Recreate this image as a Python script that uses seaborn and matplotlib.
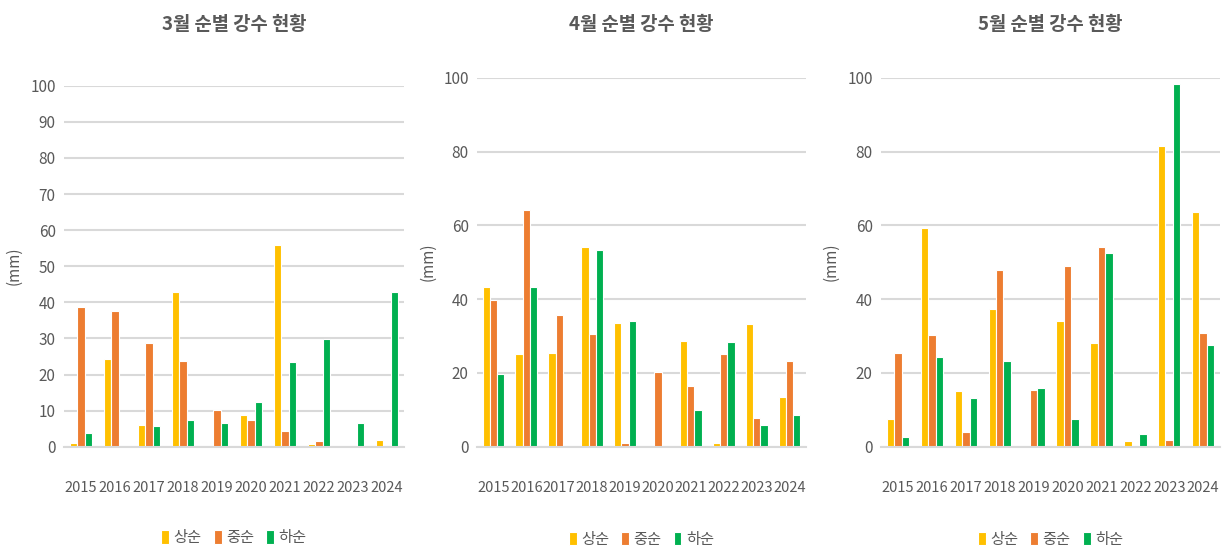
'''
3~5월 순별(상순/중순/하순) 강수 현황 막대그래프
'''

import pandas as pd
import matplotlib
matplotlib.use("Agg")
import matplotlib.pyplot as plt
import seaborn as sns

years = [2015, 2016, 2017, 2018, 2019, 2020, 2021, 2022, 2023, 2024]
periods = ["상순", "중순", "하순"]
colors = ["#FFC000", "#ED7D31", "#00B050"]

# 3월
mar_early = [1.1, 24.2, 6.0, 42.8, 0, 8.8, 56.0, 0.7, 0, 1.9]
mar_mid = [38.8, 37.5, 28.7, 23.8, 10.2, 7.4, 4.3, 1.6, 0, 0]
mar_late = [3.9, 0, 5.7, 7.4, 6.7, 12.3, 23.5, 29.8, 6.7, 42.8]

# 4월
apr_early = [43.4, 25.0, 25.4, 54.0, 33.5, 0, 28.7, 1.1, 33.2, 13.6]
apr_mid = [39.8, 64.2, 35.6, 30.5, 1.1, 20.2, 16.4, 25.0, 7.9, 23.3]
apr_late = [19.7, 43.4, 0, 53.4, 34.2, 0, 10.0, 28.4, 5.9, 8.6]

# 5월
may_early = [7.6, 59.2, 15.1, 37.3, 0, 34.2, 28.1, 1.5, 81.4, 63.6]
may_mid = [25.4, 30.2, 3.9, 47.9, 15.4, 48.9, 54.0, 0, 1.9, 30.8]
may_late = [2.5, 24.3, 13.1, 23.3, 15.8, 7.6, 52.4, 3.5, 98.2, 27.7]

titles = ["3월 순별 강수 현황", "4월 순별 강수 현황", "5월 순별 강수 현황"]
y_ticks = [list(range(0, 101, 10)), list(range(0, 101, 20)), list(range(0, 101, 20))]


#######################################################
### 1. Long table

def build_table(early, mid, late):

    rows = []

    for name, values in zip(periods, [early, mid, late]):

        for year, v in zip(years, values):

            rows.append({"year": str(year), "period": name, "rain": v})

    return pd.DataFrame(rows)


#######################################################
### 2. Plot

sns.set_theme(style="white")
plt.rcParams["font.family"] = ["Noto Sans CJK KR", "DejaVu Sans"]

text_color = "#595959"

fig = plt.figure(figsize=(12.24, 5.49), dpi=100)

# [left, bottom, width, height] of each panel
positions = [
    [0.0523, 0.1863, 0.2778, 0.6576],
    [0.3897, 0.1863, 0.2688, 0.6721],
    [0.7198, 0.1863, 0.2770, 0.6721],
]

tables = [
    build_table(mar_early, mar_mid, mar_late),
    build_table(apr_early, apr_mid, apr_late),
    build_table(may_early, may_mid, may_late),
]

for pos, df, title, ticks in zip(positions, tables, titles, y_ticks):

    ax = fig.add_axes(pos)

    sns.barplot(
        data=df,
        x="year",
        y="rain",
        hue="period",
        palette=colors,
        saturation=1,
        width=0.66,
        edgecolor="white",
        linewidth=0.8,
        ax=ax
    )

    ax.set_ylim(0, 100)
    ax.set_yticks(ticks)
    ax.yaxis.grid(True, color="#d9d9d9", linewidth=1.5)
    ax.set_axisbelow(True)

    for side in ["top", "right", "left"]:
        ax.spines[side].set_visible(False)

    ax.spines["bottom"].set_color("#d9d9d9")
    ax.spines["bottom"].set_linewidth(1.5)

    ax.tick_params(axis="y", length=0, labelsize=11, colors=text_color, pad=6)
    ax.tick_params(axis="x", length=0, labelsize=10.5, colors=text_color, pad=25)

    ax.set_xlabel("")
    ax.set_ylabel("(mm)", fontsize=11, color=text_color)
    ax.yaxis.set_label_coords(-0.122, 0.5)

    handles, labels = ax.get_legend_handles_labels()
    ax.legend(
        handles, labels,
        loc="upper center",
        bbox_to_anchor=(0.5, -0.19),
        ncol=3,
        frameon=False,
        fontsize=11,
        labelcolor=text_color,
        handlelength=0.5,
        handleheight=1.0,
        handletextpad=0.3,
        columnspacing=0.8
    )

    # title at a fixed height above the panel
    fig.text(pos[0] + pos[2] / 2, 1 - 24 / 549, title,
             ha="center", va="center", fontsize=13.5, fontweight="bold",
             color=text_color)

fig.savefig("out.png", dpi=100)
